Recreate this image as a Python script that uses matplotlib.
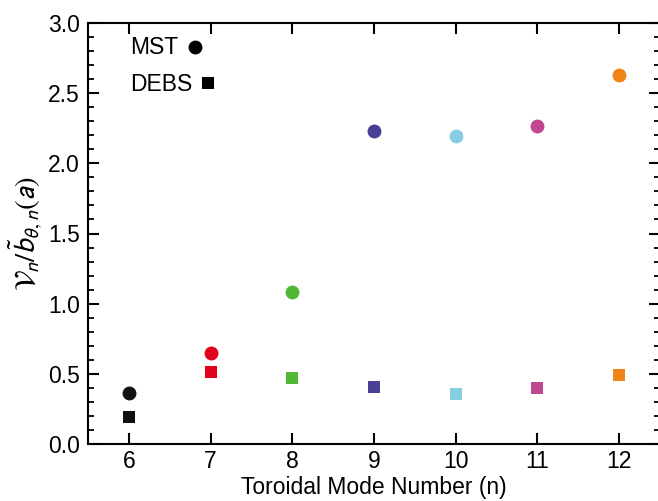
import matplotlib
matplotlib.use("Agg")
import matplotlib.pyplot as plt
from matplotlib.ticker import MultipleLocator

plt.rcParams['font.family'] = ['Liberation Sans', 'DejaVu Sans']
plt.rcParams['mathtext.fontset'] = 'stixsans'

n_modes = [6, 7, 8, 9, 10, 11, 12]
mst_vals = [0.366, 0.65, 1.083, 2.23, 2.195, 2.266, 2.632]
debs_vals = [0.19, 0.515, 0.47, 0.406, 0.358, 0.40, 0.494]
colors = ['#111111', '#e2001a', '#52b833', '#483f96', '#86cde0', '#bf4890', '#ef8418']
legend_labels = ['MST', 'DEBS']

fig = plt.figure(figsize=(6.58, 5.01), dpi=100)
ax = fig.add_axes([88/658, 1-444/501, 572/658, 421/501])

for x, ym, yd, c in zip(n_modes, mst_vals, debs_vals, colors):
    ax.plot(x, ym, 'o', color=c, markersize=10, markeredgewidth=0)
    ax.plot(x, yd, 's', color=c, markersize=8.5, markeredgewidth=0)

# legend-like annotations (text followed by marker)
ax.text(0.073, 0.941, legend_labels[0], transform=ax.transAxes, fontsize=16.5,
        ha='left', va='center')
ax.plot([0.187], [0.943], 'o', color='black', markersize=10, markeredgewidth=0,
        transform=ax.transAxes, clip_on=False)
ax.text(0.073, 0.855, legend_labels[1], transform=ax.transAxes, fontsize=16.5,
        ha='left', va='center')
ax.plot([0.21], [0.857], 's', color='black', markersize=8.5, markeredgewidth=0,
        transform=ax.transAxes, clip_on=False)

ax.set_xlim(5.5, 12.5)
ax.set_ylim(0, 3.0)
ax.set_xticks(n_modes)
ax.yaxis.set_major_locator(MultipleLocator(0.5))
ax.yaxis.set_minor_locator(MultipleLocator(0.1))
ax.tick_params(axis='both', which='major', direction='in', top=True, right=True,
               labelsize=16.5, length=8, width=1.5)
ax.tick_params(axis='y', which='minor', direction='in', right=True, length=4, width=1.3)
ax.tick_params(axis='x', which='major', pad=4)
ax.tick_params(axis='y', which='major', pad=6)
for s in ax.spines.values():
    s.set_linewidth(1.5)

ax.set_xlabel('Toroidal Mode Number (n)', fontsize=16.5, labelpad=2.5)
ax.set_ylabel(r'$\mathcal{V}_n/\tilde{b}_{\theta,n}(a)$', fontsize=21, labelpad=2)

fig.savefig('out.png', dpi=100)
